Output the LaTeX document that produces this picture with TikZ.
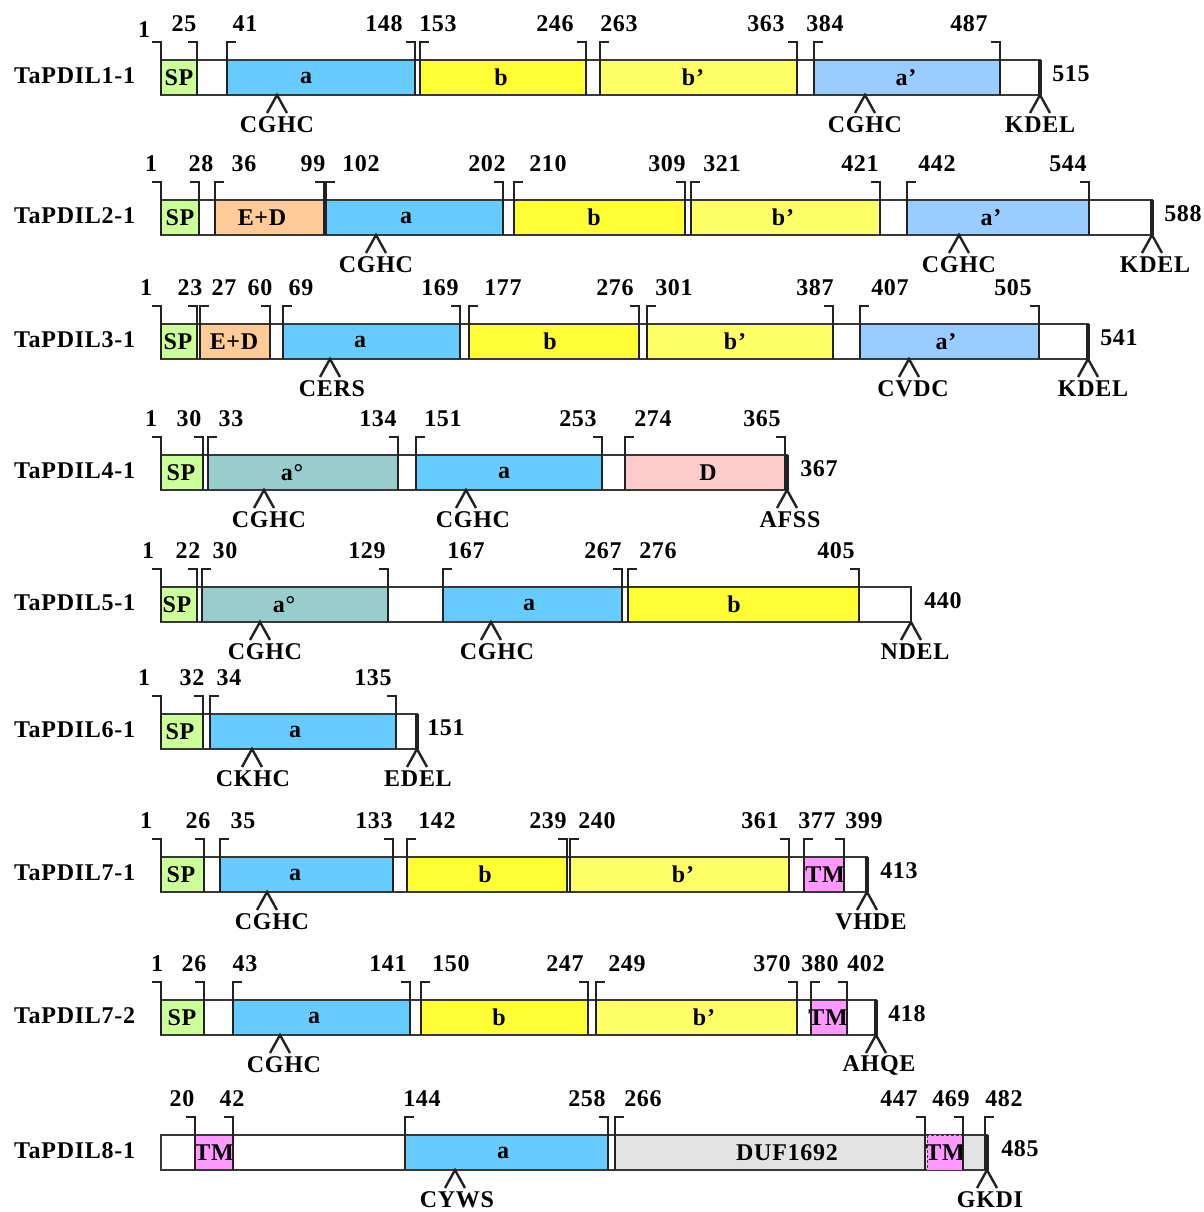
\documentclass[tikz,border=0pt]{standalone}
\usepackage{fontspec}
\setmainfont[LetterSpace=3]{Liberation Serif}

\definecolor{spc}{HTML}{CCFF99}
\definecolor{edc}{HTML}{FFCC99}
\definecolor{ac}{HTML}{66CCFF}
\definecolor{bc}{HTML}{FFFF33}
\definecolor{bpc}{HTML}{FFFF66}
\definecolor{apc}{HTML}{99CCFF}
\definecolor{aoc}{HTML}{99CCCC}
\definecolor{dc}{HTML}{FFCCCC}
\definecolor{tmc}{HTML}{FF99FF}
\definecolor{dufc}{HTML}{E3E3E3}
\definecolor{ink}{HTML}{222222}

% one protein bar: top at y=0, bottom at y=35 (y grows downwards)
\newcommand\protbar[2]{% end x, row label
  \node[rowlabel] (\rowid-label) at (14,16) {#2};
  \draw[barline] (161,0) rectangle (#1,35);}
\newcommand\domain[5]{% x1, x2, fill, label x, text
  \draw[domline,fill=#3] (#1,0) rectangle (#2,35);
  \node[domtext] (\rowid-d#1) at (#4,17.5) {#5};}
\newcommand\openbr[3]{% bracket x, number x, number
  \draw[brk] (#1+9,-18) -- (#1,-18) -- (#1,35);
  \node[num] (\rowid-n#1) at (#2,-36) {#3};}
\newcommand\closebr[3]{%
  \draw[brk] (#1-9,-18) -- (#1,-18) -- (#1,35);
  \node[num] (\rowid-n#1) at (#2,-36) {#3};}
\newcommand\motif[3]{% apex x, label x, motif
  \coordinate (\rowid-c#1) at (#1,35);
  \draw[caret] (\rowid-c#1) ++(-10,18) -- (\rowid-c#1) -- ++(10,18);
  \node[motiftext] (\rowid-m#1) at (#2,65) {#3};}
\newcommand\protend[3]{% end x, length label x, length
  \draw[endbar] (#1,0) -- (#1,35);
  \node[num] (\rowid-len) at (#2,14) {#3};}

\begin{document}
\begin{tikzpicture}[x=1pt,y=-1pt,
  bigbold/.style={font=\fontsize{24}{24}\selectfont\bfseries, text=black, inner sep=0pt},
  rowlabel/.style={bigbold, anchor=west},
  num/.style={bigbold},
  domtext/.style={bigbold},
  motiftext/.style={bigbold},
  barline/.style={draw=ink!90, line width=1.2pt, fill=white},
  domline/.style={draw=ink!90, line width=1.2pt},
  brk/.style={draw=ink, line width=1.5pt},
  caret/.style={draw=ink, line width=2.4pt},
  endbar/.style={draw=ink, line width=3.5pt}]
\useasboundingbox (0,0) rectangle (1203,1212);
\fill[white] (0,0) rectangle (1203,1212);

% TaPDIL1-1
\begin{scope}[shift={(0,60)}]\def\rowid{r1}
  \protbar{1040}{TaPDIL1-1}
  \domain{161}{197}{spc}{179}{SP}
  \domain{227}{415}{ac}{306}{a}
  \domain{420}{586}{bc}{501}{b}
  \domain{600}{797}{bpc}{693}{b’}
  \domain{814}{1000}{apc}{906}{a’}
  \draw[brk] (152,-18) -- (161,-18) -- (161,35);
  \node[num] (\rowid-n161) at (144,-30) {1};
  \closebr{197}{184}{25}
  \openbr{227}{245}{41}
  \closebr{415}{384}{148}
  \openbr{420}{438}{153}
  \closebr{586}{555}{246}
  \openbr{600}{619}{263}
  \closebr{797}{766}{363}
  \openbr{814}{825}{384}
  \closebr{1000}{969}{487}
  \motif{277}{277}{CGHC}
  \motif{865}{865}{CGHC}
  \protend{1040}{1071}{515}
  \motif{1040}{1040}{KDEL}
\end{scope}

% TaPDIL2-1
\begin{scope}[shift={(0,200)}]\def\rowid{r2}
  \protbar{1152}{TaPDIL2-1}
  \domain{161}{199}{spc}{180}{SP}
  \domain{215}{324}{edc}{262}{E+D}
  \domain{326}{503}{ac}{406}{a}
  \domain{514}{685}{bc}{594}{b}
  \domain{691}{880}{bpc}{783}{b’}
  \domain{907}{1089}{apc}{991}{a’}
  \closebr{161}{151}{1}
  \closebr{199}{201}{28}
  \openbr{215}{244}{36}
  \closebr{324}{313}{99}
  \openbr{326}{361}{102}
  \closebr{503}{487}{202}
  \openbr{514}{548}{210}
  \closebr{685}{667}{309}
  \openbr{691}{722}{321}
  \closebr{880}{860}{421}
  \openbr{907}{937}{442}
  \closebr{1089}{1068}{544}
  \motif{376}{376}{CGHC}
  \motif{959}{959}{CGHC}
  \protend{1152}{1183}{588}
  \motif{1152}{1155}{KDEL}
\end{scope}

% TaPDIL3-1
\begin{scope}[shift={(0,324)}]\def\rowid{r3}
  \protbar{1088}{TaPDIL3-1}
  \domain{161}{197}{spc}{178}{SP}
  \domain{200}{270}{edc}{234}{E+D}
  \domain{283}{460}{ac}{360}{a}
  \domain{469}{639}{bc}{550}{b}
  \domain{647}{833}{bpc}{735}{b’}
  \domain{860}{1039}{apc}{946}{a’}
  \closebr{161}{146}{1}
  \closebr{197}{190}{23}
  \openbr{200}{224}{27}
  \closebr{270}{260}{60}
  \openbr{283}{301}{69}
  \closebr{460}{440}{169}
  \openbr{469}{503}{177}
  \closebr{639}{615}{276}
  \openbr{647}{674}{301}
  \closebr{833}{815}{387}
  \openbr{860}{890}{407}
  \closebr{1039}{1013}{505}
  \motif{330}{332}{CERS}
  \motif{909}{913}{CVDC}
  \protend{1088}{1119}{541}
  \motif{1088}{1093}{KDEL}
\end{scope}

% TaPDIL4-1
\begin{scope}[shift={(0,455)}]\def\rowid{r4}
  \protbar{787}{TaPDIL4-1}
  \domain{161}{203}{spc}{181}{SP}
  \domain{208}{398}{aoc}{292}{a°}
  \domain{416}{602}{ac}{504}{a}
  \domain{625}{787}{dc}{708}{D}
  \closebr{161}{151}{1}
  \closebr{203}{189}{30}
  \openbr{208}{231}{33}
  \closebr{398}{378}{134}
  \openbr{416}{443}{151}
  \closebr{602}{578}{253}
  \openbr{625}{653}{274}
  \closebr{785}{762}{365}
  \motif{264}{269}{CGHC}
  \motif{466}{473}{CGHC}
  \protend{787}{819}{367}
  \motif{787}{790}{AFSS}
\end{scope}

% TaPDIL5-1
\begin{scope}[shift={(0,587)}]\def\rowid{r5}
  \protbar{911}{TaPDIL5-1}
  \domain{161}{197}{spc}{177}{SP}
  \domain{202}{388}{aoc}{284}{a°}
  \domain{443}{622}{ac}{529}{a}
  \domain{628}{859}{bc}{734}{b}
  \closebr{161}{148}{1}
  \closebr{197}{188}{22}
  \openbr{202}{225}{30}
  \closebr{388}{367}{129}
  \openbr{443}{466}{167}
  \closebr{622}{603}{267}
  \openbr{628}{658}{276}
  \closebr{859}{836}{405}
  \motif{260}{265}{CGHC}
  \motif{491}{497}{CGHC}
  \draw[brk] (911,0) -- (911,35);
  \node[num] (\rowid-len) at (943,14) {440};
  \motif{911}{915}{NDEL}
\end{scope}

% TaPDIL6-1
\begin{scope}[shift={(0,714)}]\def\rowid{r6}
  \protbar{417}{TaPDIL6-1}
  \domain{161}{203}{spc}{180}{SP}
  \domain{210}{396}{ac}{295}{a}
  \closebr{161}{144}{1}
  \closebr{203}{192}{32}
  \openbr{210}{229}{34}
  \closebr{396}{373}{135}
  \motif{252}{253}{CKHC}
  \protend{417}{446}{151}
  \motif{417}{418}{EDEL}
\end{scope}

% TaPDIL7-1
\begin{scope}[shift={(0,857)}]\def\rowid{r7}
  \protbar{867}{TaPDIL7-1}
  \domain{161}{204}{spc}{181}{SP}
  \domain{220}{393}{ac}{295}{a}
  \domain{407}{567}{bc}{485}{b}
  \domain{570}{789}{bpc}{683}{b’}
  \domain{804}{844}{tmc}{825}{TM}
  \closebr{161}{146}{1}
  \closebr{204}{198}{26}
  \openbr{220}{243}{35}
  \closebr{393}{374}{133}
  \openbr{407}{437}{142}
  \closebr{567}{548}{239}
  \openbr{570}{597}{240}
  \closebr{789}{760}{361}
  \openbr{804}{817}{377}
  \closebr{844}{864}{399}
  \motif{267}{272}{CGHC}
  \protend{867}{899}{413}
  \motif{867}{871}{VHDE}
\end{scope}

% TaPDIL7-2
\begin{scope}[shift={(0,1000)}]\def\rowid{r8}
  \protbar{876}{TaPDIL7-2}
  \domain{161}{204}{spc}{182}{SP}
  \domain{233}{410}{ac}{314}{a}
  \domain{421}{588}{bc}{499}{b}
  \domain{596}{797}{bpc}{704}{b’}
  \domain{811}{847}{tmc}{828}{TM}
  \closebr{161}{157}{1}
  \closebr{204}{194}{26}
  \openbr{233}{245}{43}
  \closebr{410}{388}{141}
  \openbr{421}{451}{150}
  \closebr{588}{565}{247}
  \openbr{596}{627}{249}
  \closebr{797}{772}{370}
  \openbr{811}{820}{380}
  \closebr{847}{866}{402}
  \motif{280}{284}{CGHC}
  \protend{876}{907}{418}
  \motif{876}{879}{AHQE}
\end{scope}

% TaPDIL8-1
\begin{scope}[shift={(0,1135)}]\def\rowid{r9}
  \protbar{987}{TaPDIL8-1}
  \domain{195}{233}{tmc}{214}{TM}
  \domain{405}{608}{ac}{503}{a}
  \domain{615}{985}{dufc}{787}{DUF1692}
  \draw[domline,densely dashed,line width=1pt,fill=tmc] (927,0) rectangle (963,35);
  \node[domtext] (\rowid-d927) at (945,17.5) {TM};
  \closebr{195}{182}{20}
  \closebr{233}{232}{42}
  \openbr{405}{422}{144}
  \closebr{608}{587}{258}
  \openbr{615}{643}{266}
  \closebr{925}{899}{447}
  \closebr{963}{951}{469}
  \openbr{985}{1004}{482}
  \motif{455}{457}{CYWS}
  \protend{987}{1020}{485}
  \motif{987}{990}{GKDI}
\end{scope}
\end{tikzpicture}
\end{document}
